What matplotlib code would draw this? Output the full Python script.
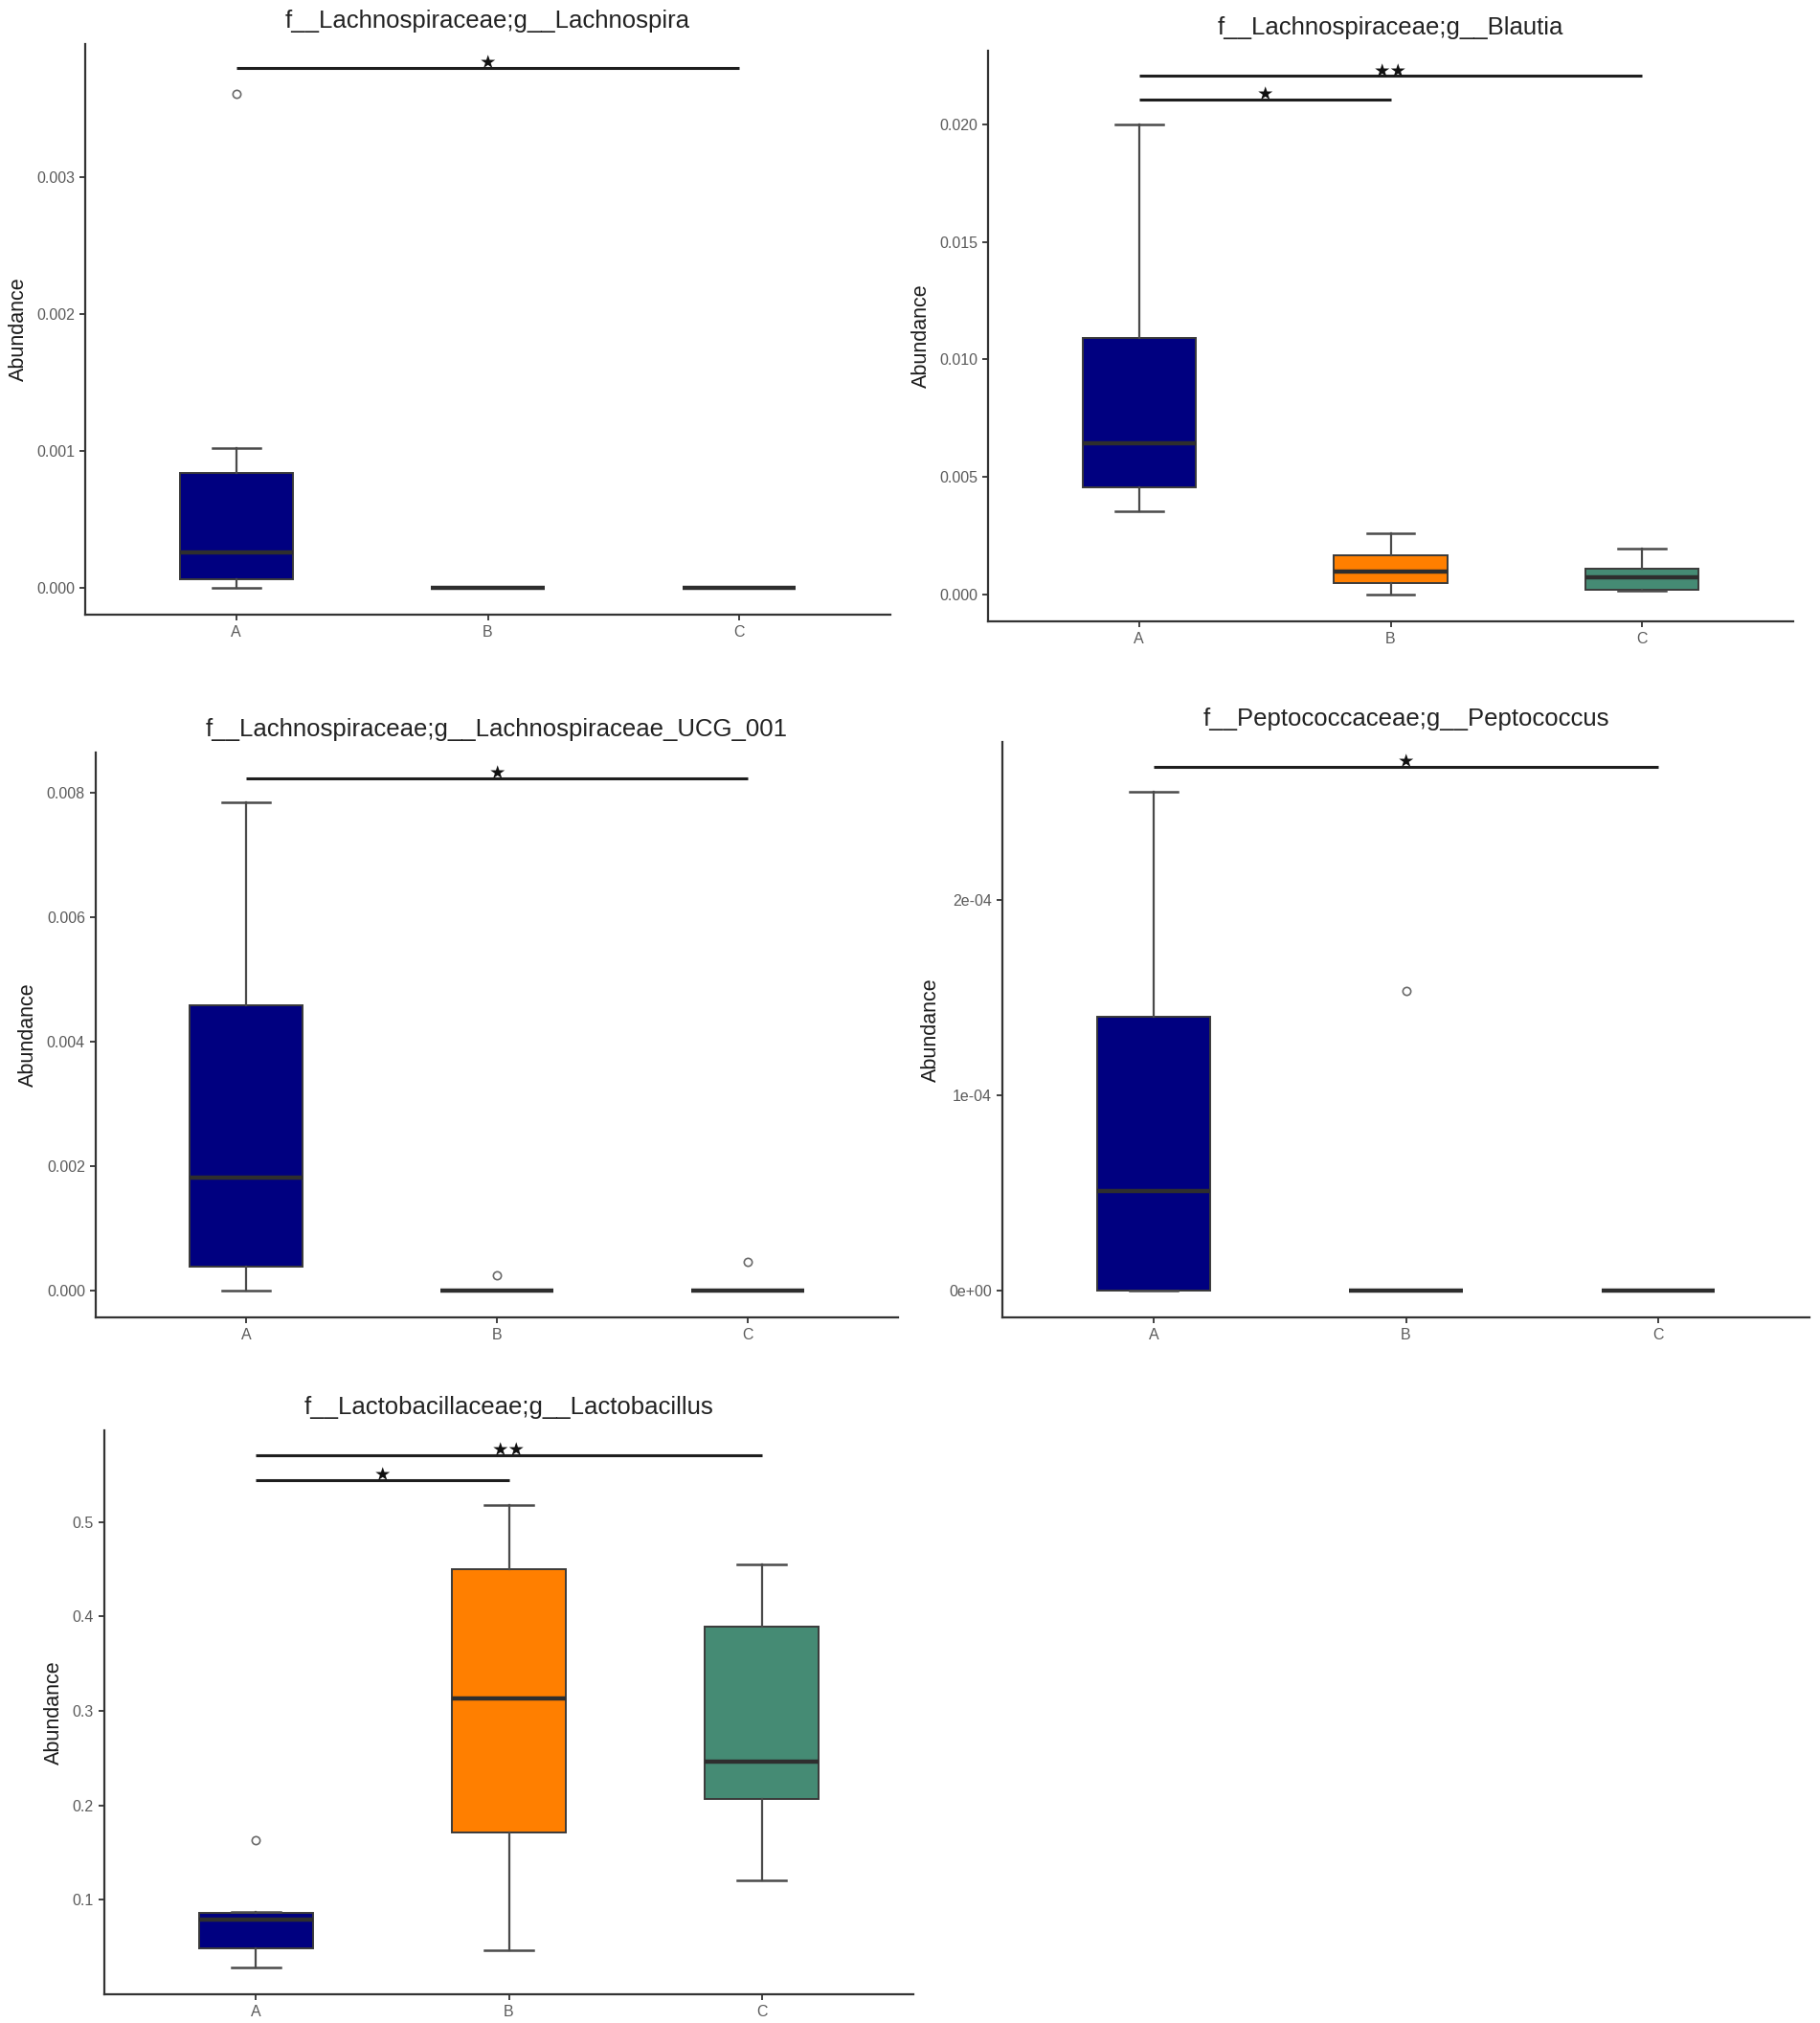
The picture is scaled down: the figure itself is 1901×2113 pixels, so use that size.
import matplotlib
matplotlib.use('Agg')
import matplotlib.pyplot as plt

plt.rcParams['font.family'] = ['Liberation Sans', 'DejaVu Sans']

W, H = 1901, 2113
groups = ['A', 'B', 'C']
group_colors = ['#000080', '#FF7F00', '#458B74']

# ---------- data (five-number summaries) ----------
# order in each row: lower whisker, Q1, median, Q3, upper whisker
lachnospira_stats = [[0.0, 0.00006, 0.00026, 0.00084, 0.00102],
                     [0.0, 0.0, 0.0, 0.0, 0.0],
                     [0.0, 0.0, 0.0, 0.0, 0.0]]
lachnospira_fliers = [[0.00361], [], []]
lachnospira_sig = [(0, 2, 0.0038, '★')]
lachnospira_yticks = [0.000, 0.001, 0.002, 0.003]
lachnospira_ylabels = ['0.000', '0.001', '0.002', '0.003']

blautia_stats = [[0.00356, 0.00455, 0.00645, 0.0109, 0.0200],
                 [0.0, 0.00051, 0.00098, 0.00167, 0.0026],
                 [0.00018, 0.00022, 0.00073, 0.00109, 0.00196]]
blautia_fliers = [[], [], []]
blautia_sig = [(0, 1, 0.02104, '★'), (0, 2, 0.02204, '★★')]
blautia_yticks = [0.000, 0.005, 0.010, 0.015, 0.020]
blautia_ylabels = ['0.000', '0.005', '0.010', '0.015', '0.020']

ucg001_stats = [[0.0, 0.00039, 0.00181, 0.00458, 0.00784],
                [0.0, 0.0, 0.0, 0.0, 0.0],
                [0.0, 0.0, 0.0, 0.0, 0.0]]
ucg001_fliers = [[], [0.00025], [0.00046]]
ucg001_sig = [(0, 2, 0.00822, '★')]
ucg001_yticks = [0.000, 0.002, 0.004, 0.006, 0.008]
ucg001_ylabels = ['0.000', '0.002', '0.004', '0.006', '0.008']

peptococcus_stats = [[0.0, 0.0, 0.510e-4, 1.402e-4, 2.552e-4],
                     [0.0, 0.0, 0.0, 0.0, 0.0],
                     [0.0, 0.0, 0.0, 0.0, 0.0]]
peptococcus_fliers = [[], [1.531e-4], []]
peptococcus_sig = [(0, 2, 2.681e-4, '★')]
peptococcus_yticks = [0.0, 1e-4, 2e-4]
peptococcus_ylabels = ['0e+00', '1e-04', '2e-04']

lactobacillus_stats = [[0.0282, 0.0491, 0.0787, 0.0860, 0.0870],
                       [0.0465, 0.1714, 0.3137, 0.4499, 0.5183],
                       [0.1205, 0.2066, 0.2462, 0.3890, 0.4556]]
lactobacillus_fliers = [[0.1627], [], []]
lactobacillus_sig = [(0, 1, 0.5444, '★'), (0, 2, 0.5705, '★★')]
lactobacillus_yticks = [0.1, 0.2, 0.3, 0.4, 0.5]
lactobacillus_ylabels = ['0.1', '0.2', '0.3', '0.4', '0.5']

titles = ['f__Lachnospiraceae;g__Lachnospira',
          'f__Lachnospiraceae;g__Blautia',
          'f__Lachnospiraceae;g__Lachnospiraceae_UCG_001',
          'f__Peptococcaceae;g__Peptococcus',
          'f__Lactobacillaceae;g__Lactobacillus']

# ---------- layout (pixel boxes: left, right, top, bottom) ----------
panels = [
    dict(box=(89, 930, 45.5, 642), ylim=(-0.000197, 0.00398),
         stats=lachnospira_stats, fliers=lachnospira_fliers, sig=lachnospira_sig,
         yt=lachnospira_yticks, yl=lachnospira_ylabels, title=titles[0]),
    dict(box=(1032, 1873, 52.7, 649), ylim=(-0.00113, 0.02313),
         stats=blautia_stats, fliers=blautia_fliers, sig=blautia_sig,
         yt=blautia_yticks, yl=blautia_ylabels, title=titles[1]),
    dict(box=(100, 938, 786, 1376), ylim=(-0.00043, 0.00864),
         stats=ucg001_stats, fliers=ucg001_fliers, sig=ucg001_sig,
         yt=ucg001_yticks, yl=ucg001_ylabels, title=titles[2]),
    dict(box=(1047, 1890, 774.5, 1376), ylim=(-0.138e-4, 2.81e-4),
         stats=peptococcus_stats, fliers=peptococcus_fliers, sig=peptococcus_sig,
         yt=peptococcus_yticks, yl=peptococcus_ylabels, title=titles[3]),
    dict(box=(109, 954, 1494, 2083), ylim=(0.0, 0.597),
         stats=lactobacillus_stats, fliers=lactobacillus_fliers, sig=lactobacillus_sig,
         yt=lactobacillus_yticks, yl=lactobacillus_ylabels, title=titles[4]),
]

fig = plt.figure(figsize=(W / 100, H / 100), dpi=100)
fig.patch.set_facecolor('white')

axis_col = '#333333'
edge_col = '#3a3a3a'
tick_col = '#5a5a5a'

for p in panels:
    L, R, T, B = p['box']
    ax = fig.add_axes([L / W, 1 - B / H, (R - L) / W, (B - T) / H])
    positions = [1, 2, 3]
    bstats = []
    for i, g in enumerate(groups):
        lo, q1, med, q3, hi = p['stats'][i]
        bstats.append(dict(label=g, whislo=lo, q1=q1, med=med, q3=q3,
                           whishi=hi, fliers=p['fliers'][i]))
    res = ax.bxp(bstats, positions=positions, widths=0.45, capwidths=0.19,
                 patch_artist=True, showfliers=True,
                 boxprops=dict(edgecolor=edge_col, linewidth=1.4),
                 medianprops=dict(color='#2e2e2e', linewidth=3.2, solid_capstyle='butt'),
                 whiskerprops=dict(color='#4a4a4a', linewidth=1.6),
                 capprops=dict(color='#4a4a4a', linewidth=1.8),
                 flierprops=dict(marker='o', markerfacecolor='none',
                                 markeredgecolor='#6a6a6a', markersize=6,
                                 markeredgewidth=1.2))
    for patch, c in zip(res['boxes'], group_colors):
        patch.set_facecolor(c)
    for (i, j, y, lab) in p['sig']:
        ax.plot([positions[i], positions[j]], [y, y], color='#1e1e1e',
                linewidth=2.2, solid_capstyle='butt', zorder=5)
        ax.text((positions[i] + positions[j]) / 2, y, lab, ha='center',
                va='baseline', fontsize=14, color='#111111',
                family=['DejaVu Sans'], zorder=6)
    ax.set_xlim(0.4, 3.6)
    ax.set_ylim(*p['ylim'])
    ax.set_xticks(positions)
    ax.set_xticklabels(groups)
    ax.set_yticks(p['yt'])
    ax.set_yticklabels(p['yl'])
    for s in ['top', 'right']:
        ax.spines[s].set_visible(False)
    for s in ['left', 'bottom']:
        ax.spines[s].set_color(axis_col)
        ax.spines[s].set_linewidth(1.6)
    ax.tick_params(axis='both', length=4, width=1.3, color=axis_col,
                   labelsize=11.5, labelcolor=tick_col, pad=4)
    ax.set_ylabel('Abundance', fontsize=15.5, color='#1a1a1a', labelpad=6)
    ax.set_title(p['title'], fontsize=18.5, color='#222222', pad=12)

fig.savefig('out.png', dpi=100, facecolor='white')
